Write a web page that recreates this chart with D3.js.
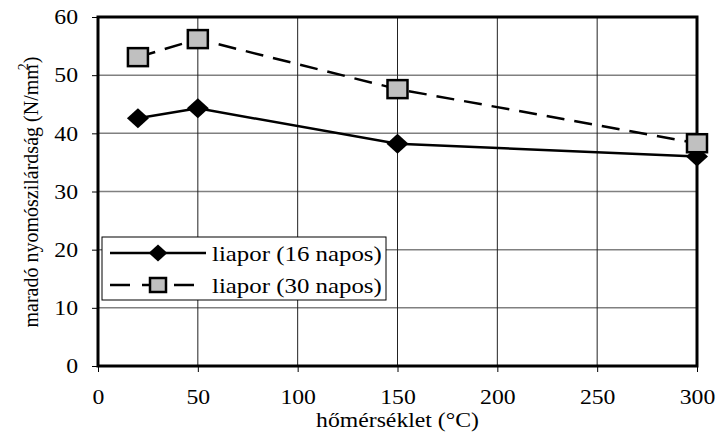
<!DOCTYPE html>
<html>
<head>
<meta charset="utf-8">
<script src="https://cdn.jsdelivr.net/npm/d3@7"></script>
<style>
body { margin: 0; background: #fff; }
svg text { font-family: "Liberation Serif", "DejaVu Serif", serif; fill: #000; }
</style>
</head>
<body>
<div id="chart"></div>
<script>
// Data
var temps = [20, 50, 150, 300];
var napos16 = [42.6, 44.3, 38.2, 36.0];
var napos30 = [53.1, 56.2, 47.6, 38.3];
var seriesNames = ["liapor (16 napos)", "liapor (30 napos)"];
var xTicks = [0, 50, 100, 150, 200, 250, 300];
var yTicks = [0, 10, 20, 30, 40, 50, 60];

var w = 718, h = 444;
var margin = { left: 98, right: 21, top: 17, bottom: 78 };
var stretch = 1.13; // text in the original is a bit wide

var svg = d3.select("#chart").append("svg")
	.attr("width", w)
	.attr("height", h)
	.attr("font-family", "Liberation Serif, DejaVu Serif, serif");

var x = d3.scaleLinear().domain([0, 300]).range([margin.left, w - margin.right]);
var y = d3.scaleLinear().domain([0, 60]).range([h - margin.bottom, margin.top]);

// gridlines
svg.append("g").selectAll("line")
	.data(yTicks.slice(1, -1))
	.enter().append("line")
	.attr("x1", x(0)).attr("x2", x(300))
	.attr("y1", function(d) { return y(d); })
	.attr("y2", function(d) { return y(d); })
	.style("stroke", "#808080").style("stroke-width", 1.5);

svg.append("g").selectAll("line")
	.data(xTicks.slice(1, -1))
	.enter().append("line")
	.attr("y1", y(0)).attr("y2", y(60))
	.attr("x1", function(d) { return x(d); })
	.attr("x2", function(d) { return x(d); })
	.style("stroke", "#222").style("stroke-width", 1);

// axes
var xAxis = svg.append("g")
	.attr("transform", "translate(0," + y(0) + ")")
	.call(d3.axisBottom(x).tickValues(xTicks).tickSize(6).tickPadding(17));
var yAxis = svg.append("g")
	.attr("transform", "translate(" + x(0) + ",0)")
	.call(d3.axisLeft(y).tickValues(yTicks).tickSize(6).tickPadding(20));

[xAxis, yAxis].forEach(function(a) {
	a.attr("font-family", null).attr("font-size", null);
	a.select(".domain").remove();
	a.selectAll("line").style("stroke", "#000").style("stroke-width", 1);
	a.selectAll("text").style("font-size", "21px")
		.attr("transform", "scale(" + stretch + ",1)");
});
yAxis.selectAll("text").attr("x", -20 / stretch);

// frame
svg.append("rect")
	.attr("x", x(0)).attr("y", y(60))
	.attr("width", x(300) - x(0)).attr("height", y(0) - y(60))
	.style("fill", "none").style("stroke", "#000").style("stroke-width", 3);

// lines
var line = d3.line()
	.x(function(d) { return x(d[0]); })
	.y(function(d) { return y(d[1]); });

var s1 = d3.zip(temps, napos16);
var s2 = d3.zip(temps, napos30);

svg.append("path").datum(s2).attr("d", line)
	.style("fill", "none").style("stroke", "#000").style("stroke-width", 2.5)
	.style("stroke-dasharray", "18,10");
svg.append("path").datum(s1).attr("d", line)
	.style("fill", "none").style("stroke", "#000").style("stroke-width", 2.5);

var diamond = "M0,-10L11,0L0,10L-11,0Z";

svg.append("g").selectAll("path")
	.data(s1).enter().append("path")
	.attr("d", diamond)
	.attr("transform", function(d) { return "translate(" + x(d[0]) + "," + y(d[1]) + ")"; })
	.style("fill", "#000");

svg.append("g").selectAll("rect")
	.data(s2).enter().append("rect")
	.attr("x", function(d) { return x(d[0]) - 10; })
	.attr("y", function(d) { return y(d[1]) - 9; })
	.attr("width", 20).attr("height", 18)
	.style("fill", "#c0c0c0").style("stroke", "#000").style("stroke-width", 2.5);

// legend
var lg = svg.append("g").attr("transform", "translate(102,237)");
lg.append("rect").attr("width", 284).attr("height", 63)
	.style("fill", "#fff").style("stroke", "#000").style("stroke-width", 1);
lg.append("line").attr("x1", 8).attr("x2", 104).attr("y1", 16).attr("y2", 16)
	.style("stroke", "#000").style("stroke-width", 2.5);
lg.append("path").attr("d", diamond).attr("transform", "translate(56,16) scale(0.85)").style("fill", "#000");
lg.append("line").attr("x1", 8).attr("x2", 104).attr("y1", 48).attr("y2", 48)
	.style("stroke", "#000").style("stroke-width", 2.5).style("stroke-dasharray", "20,12");
lg.append("rect").attr("x", 48).attr("y", 41).attr("width", 16).attr("height", 14)
	.style("fill", "#c0c0c0").style("stroke", "#000").style("stroke-width", 2.5);
lg.selectAll("text.leg").data(seriesNames).enter().append("text")
	.attr("class", "leg")
	.attr("transform", function(d, i) { return "translate(110," + (16 + i * 32) + ") scale(" + stretch + ",1)"; })
	.attr("dy", "0.35em")
	.style("font-size", "22px")
	.text(function(d) { return d; });

// axis titles
svg.append("text")
	.attr("transform", "translate(" + x(150) + ",420) scale(" + stretch + ",1)")
	.attr("dy", "0.35em")
	.attr("text-anchor", "middle")
	.style("font-size", "21px")
	.text("hőmérséklet (°C)");

var yt = svg.append("text")
	.attr("transform", "translate(38,192) rotate(-90)")
	.attr("text-anchor", "middle")
	.style("font-size", "20px");
yt.append("tspan").text("maradó nyomószilárdság (N/mm");
yt.append("tspan").attr("dy", -10).attr("dx", -6).style("font-size", "14px").text("2");
yt.append("tspan").attr("dy", 10).text(")");
</script>
</body>
</html>
